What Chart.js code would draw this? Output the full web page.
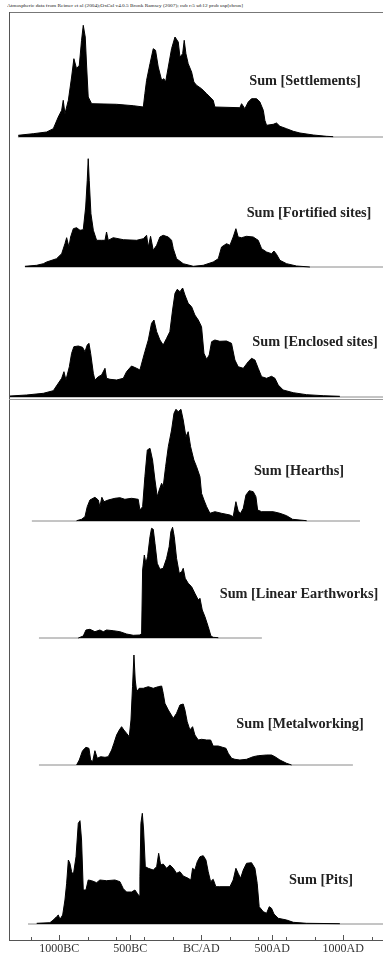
<!DOCTYPE html>
<html><head><meta charset="utf-8">
<script src="https://cdn.jsdelivr.net/npm/chart.js"></script>
<style>
html,body{margin:0;padding:0;background:#fff;width:383px;height:963px;overflow:hidden;}
#wrap{position:relative;width:383px;height:963px;}
canvas{position:absolute;left:9px;}
.lbl{position:absolute;font:bold 14.3px "Liberation Serif","Times New Roman",serif;color:#222;white-space:nowrap;transform:translate(-50%,-50%);}
#hdr{position:absolute;left:7px;top:3px;font:5px "Liberation Serif","Times New Roman",serif;color:#222;white-space:nowrap;transform-origin:0 0;}
.hl{position:absolute;}
</style></head>
<body><div id="wrap">
<div id="hdr">Atmospheric data from Reimer et al (2004);OxCal v4.0.5 Bronk Ramsey (2007); cub r:5 sd:12 prob usp[chron]</div>
<div class="hl" style="left:9px;top:12px;width:374px;height:1px;background:#777"></div>
<div class="hl" style="left:9px;top:12px;width:1px;height:928px;background:#555"></div>
<div class="hl" style="left:9px;top:399px;width:374px;height:1px;background:#9a9a9a"></div>
</div>
<script>
// ---- data (years BC negative / AD positive, relative summed probability) ----
const settlementsYears = [-1289,-1183,-1089,-1042,-1007,-983,-972,-960,-936,-913,-897,-878,-859,-843,-831,-817,-807,-796,-772,-596,-479,-408,-397,-385,-361,-338,-322,-303,-279,-263,-251,-232,-209,-185,-162,-150,-131,-120,-108,-92,-68,-52,-33,2,38,61,84,96,272,284,307,331,354,390,413,437,448,460,507,530,554,601,648,695,789,882,929];
const settlementsValues = [1.7,3.3,5,8.3,20,26.7,36.7,23.3,36.7,60,78.3,68.3,71.7,96.7,111.7,100,70,40,33.3,32.7,31.3,30,43.3,56.7,73.3,88.3,86.7,70,56.7,58.3,55,70,88.3,100,95,80,83.3,96.7,83.3,73.3,65,55,51.7,48.3,43.3,40,36.7,30,29.3,33.3,28.3,35,38.3,38.3,35,26.7,16.7,11.7,12.7,14,10.7,8.3,5.7,4,2,0.7,0.3];

const fortifiedYears = [-1242,-1159,-1112,-1089,-1019,-983,-960,-948,-932,-920,-901,-878,-854,-831,-814,-803,-796,-789,-777,-760,-737,-702,-678,-667,-655,-620,-549,-455,-408,-385,-373,-357,-338,-314,-291,-268,-232,-209,-197,-174,-127,-56,14,84,120,143,178,202,225,244,260,284,319,366,401,425,460,495,512,530,554,601,671,765];
const fortifiedValues = [0.7,1.7,3.3,5,8.3,13.3,23.3,29.3,20,30,38.3,39.3,36.7,37.3,60,86.7,108.3,86.7,53.3,36.7,26.7,26.7,26.7,35,26.7,29.3,27.3,26.7,28.3,31.7,20,30.7,16.7,21.7,30,31.7,30,26.7,18.3,8.3,3.3,0.7,1.7,5,8.3,20,23.3,21.7,30,38.3,30,29.3,30.7,30,26.7,18.3,15,13.3,16,12.7,6.7,3.3,1,0];

const enclosedYears = [-1347,-1230,-1112,-1042,-1007,-983,-967,-953,-929,-913,-897,-866,-836,-819,-803,-791,-779,-760,-749,-725,-702,-678,-667,-643,-596,-549,-526,-491,-455,-432,-413,-397,-373,-350,-333,-314,-291,-268,-244,-221,-202,-185,-169,-150,-131,-115,-92,-68,-45,-21,2,19,38,56,73,96,131,178,213,237,260,296,331,354,378,401,425,460,495,519,542,577,648,742,859,976];
const enclosedValues = [1,2,3.7,6.3,13.7,18.7,25.3,17,30.3,43.7,50.3,51,49.7,45.3,52,53.7,43.7,23.7,17,20.3,22,28.7,18.7,17.7,17,18.7,25.3,31,28.7,27,37,45.3,57,73.7,77,65.3,57,52,58.7,65.3,87,103.7,107.7,105.3,109,102,93.7,90.3,82,77,70.3,43.7,37.7,42,55.3,57,55.7,56,53.7,37,30.3,28.7,35.3,38.7,37,28.7,20.3,18.7,20.7,18.7,12,7,4.3,2.3,1.3,0.7];

const hearthsYears = [-878,-843,-819,-803,-784,-749,-725,-714,-700,-685,-655,-608,-573,-538,-491,-444,-432,-413,-397,-380,-361,-343,-326,-310,-296,-279,-268,-251,-232,-209,-192,-178,-162,-143,-127,-108,-92,-75,-52,-33,-9,2,19,38,61,96,143,202,225,244,260,277,296,315,338,366,385,397,425,507,554,601,643,742];
const hearthsValues = [0.3,1.7,4.3,14.3,21,23.7,21,14.3,23.7,19.3,21,22.7,23.3,21.7,22.7,21.7,11,14.3,44.3,71,72.7,61,41,24.3,31,37.7,34.3,54.3,74.3,91,107.7,111.7,109.3,111.7,101,84.3,89.3,74.3,61,54.3,44.3,27.7,21,14.3,7.7,9.3,7.7,6,4.3,19.3,10,7.7,12.7,26,30.3,29.3,24.3,11,9.3,9.3,7.7,5.3,1.7,0.3];

const earthworksYears = [-866,-831,-812,-784,-749,-714,-690,-667,-620,-573,-526,-479,-432,-420,-413,-401,-390,-378,-361,-350,-338,-326,-310,-291,-268,-244,-226,-214,-202,-190,-174,-155,-138,-127,-113,-92,-68,-45,-21,-9,7,26,49,68,84,120];
const earthworksValues = [0,2,8,8.7,6.3,8,6.3,8,7.3,6.3,4,2.7,3,4.7,68,83,74.7,81.3,101.3,109.7,108.7,94.7,74.7,68.7,69.7,79.7,91.3,106.3,110.7,101.3,79.7,64.7,66.3,69.7,59.7,54.7,51.3,44.7,38,39.7,28,21.3,11.3,2,0.7,0.3];

const metalworkingYears = [-878,-859,-836,-812,-791,-779,-765,-749,-732,-709,-678,-655,-631,-615,-596,-577,-561,-545,-526,-507,-495,-484,-474,-465,-455,-437,-408,-373,-338,-303,-279,-268,-256,-232,-197,-174,-150,-127,-115,-99,-80,-61,-45,-21,2,38,66,84,120,150,174,190,214,237,272,319,366,401,460,495,519,554,601,636];
const metalworkingValues = [0,5,14.3,17.7,16.7,5,3.3,14.3,6.7,8.3,7.7,8.3,15,21.7,30,35,38.3,35,31.7,28.3,45,78.3,110,85,73.3,76.7,76.7,78.3,76.7,78.3,79,71.7,61.7,55,46.7,51.7,60,61,55,43.3,35,38.3,30,25,25.7,25,25,19,19,17.7,16.7,11.7,6.7,5.7,5,5.7,8.3,9.3,10,10,8.3,5,1.7,0];

const pitsYears = [-1159,-1066,-1042,-1019,-1007,-995,-976,-960,-948,-936,-925,-913,-901,-882,-866,-854,-843,-831,-812,-796,-772,-737,-714,-667,-608,-573,-549,-526,-491,-467,-451,-437,-432,-425,-415,-406,-394,-373,-338,-314,-300,-286,-268,-244,-221,-197,-174,-150,-127,-92,-73,-61,-45,-28,-9,14,33,49,66,84,103,131,202,225,244,260,277,296,319,354,378,394,408,437,460,479,495,512,542,601,648,742,976];
const pitsValues = [0.7,1.3,4,7.3,9,4.7,9,24,40.7,64,60.7,52.3,49,67.3,100.7,103.3,84,34,34,44,43.3,41.3,44,43.3,44,42.3,35.3,32,32,34,30.7,28,47.3,100.7,110.7,94,57.3,55.7,54,57.3,70.7,59,60,55.7,59,55.7,50.7,52.3,48,45.7,44,55.7,54,62.3,67.3,68.3,64,52.3,42.3,44.7,37.3,37.3,37.3,44,55.7,50.7,45.7,54,60.7,61.3,55.7,40.7,17.3,12.3,10.7,17.3,15.7,10,5.7,4,1.7,0.7,0.3];

const panelLabels = ['Sum [Settlements]','Sum [Fortified sites]','Sum [Enclosed sites]','Sum [Hearths]','Sum [Linear Earthworks]','Sum [Metalworking]','Sum [Pits]'];
// extent of each panel's axis line (years)
const baselineStarts = [-1291,-1241,-1347,-1193,-1143,-1143,-1220];
const baselineEnds   = [1280,1280,1280,1118,427,1068,1280];

const majorTicks  = [-1000,-500,0,500,1000];
const majorLabels = ['1000BC','500BC','BC/AD','500AD','1000AD'];
const minorTicks  = [-1200,-800,-600,-400,-200,200,400,600,800,1200];

// ---- layout ----
const X_MIN = -1354, X_MAX = 1280;
const seriesYears  = [settlementsYears,fortifiedYears,enclosedYears,hearthsYears,earthworksYears,metalworkingYears,pitsYears];
const seriesValues = [settlementsValues,fortifiedValues,enclosedValues,hearthsValues,earthworksValues,metalworkingValues,pitsValues];
const layoutTops  = [13,139,269,399,523,640,767];
const layoutBases = [137,267,397,521,638,765,924];
const labelPos = [[305,80],[309,212],[315,341],[299,470],[299,593],[300,723],[321,879]];

Chart.defaults.animation = false;
const wrap = document.getElementById('wrap');

seriesYears.forEach((years,i)=>{
  const top = layoutTops[i], base = layoutBases[i];
  const h = base - top + 2;
  const c = document.createElement('canvas');
  c.width = 374; c.height = h; c.style.top = top + 'px';
  c.style.width = '374px'; c.style.height = h + 'px';
  wrap.appendChild(c);
  new Chart(c, {
    type: 'line',
    data: { datasets: [
      { data: years.map((x,k)=>({x:x, y:seriesValues[i][k]})), borderColor:'#000', backgroundColor:'#000',
        borderWidth:1, fill:'origin', pointRadius:0, tension:0 },
      { data: [{x:baselineStarts[i],y:0},{x:baselineEnds[i],y:0}], borderColor:'#8a8a8a', borderWidth:1,
        pointRadius:0, fill:false }
    ]},
    options: {
      responsive:false, animation:false, devicePixelRatio:1, events:[],
      layout:{padding:0},
      plugins:{legend:{display:false}, tooltip:{enabled:false}},
      scales:{
        x:{type:'linear', min:X_MIN, max:X_MAX, display:false},
        y:{min:-2, max:h-2, display:false}
      }
    }
  });
  const d = document.createElement('div');
  d.className = 'lbl'; d.textContent = panelLabels[i];
  d.style.left = labelPos[i][0] + 'px'; d.style.top = labelPos[i][1] + 'px';
  wrap.appendChild(d);
});

// bottom time axis
const allTicks = [...majorTicks, ...minorTicks].sort((a,b)=>a-b);
const ac = document.createElement('canvas');
ac.width = 374; ac.height = 40; ac.style.top = '920px';
ac.style.width = '374px'; ac.style.height = '40px';
wrap.appendChild(ac);
const upTicks = {
  id:'upTicks',
  afterDraw(chart){
    const s = chart.scales.x, ctx = chart.ctx, b = chart.chartArea.bottom;
    ctx.save(); ctx.strokeStyle = '#555'; ctx.lineWidth = 1;
    s.ticks.forEach(t=>{
      const x = Math.round(s.getPixelForValue(t.value)) + 0.5;
      const len = majorTicks.includes(t.value) ? 5 : 3;
      ctx.beginPath(); ctx.moveTo(x, b); ctx.lineTo(x, b - len); ctx.stroke();
    });
    ctx.restore();
  }
};
new Chart(ac, {
  type:'line',
  data:{datasets:[]},
  options:{
    responsive:false, animation:false, devicePixelRatio:1, events:[],
    layout:{padding:0},
    plugins:{legend:{display:false}, tooltip:{enabled:false}},
    scales:{
      x:{type:'linear', position:'bottom', min:X_MIN, max:X_MAX,
         afterBuildTicks:(s)=>{ s.ticks = allTicks.map(v=>({value:v})); },
         afterFit:(s)=>{ s.height = 20; },
         grid:{display:false, drawTicks:false},
         border:{display:true, color:'#555', width:1},
         ticks:{autoSkip:false, maxRotation:0, minRotation:0, padding:2, color:'#333',
                font:{family:'"Liberation Serif","Times New Roman",serif', size:12},
                callback:(v)=>{ const k = majorTicks.indexOf(v); return k>=0 ? majorLabels[k] : ''; }}
      },
      y:{display:false, min:0, max:1}
    }
  },
  plugins:[upTicks]
});

// fit the tiny header line to its width in the original
const hdr = document.getElementById('hdr');
const w = hdr.getBoundingClientRect().width;
if (w > 0) hdr.style.transform = 'scaleX(' + (236 / w) + ')';
</script>
</body></html>
